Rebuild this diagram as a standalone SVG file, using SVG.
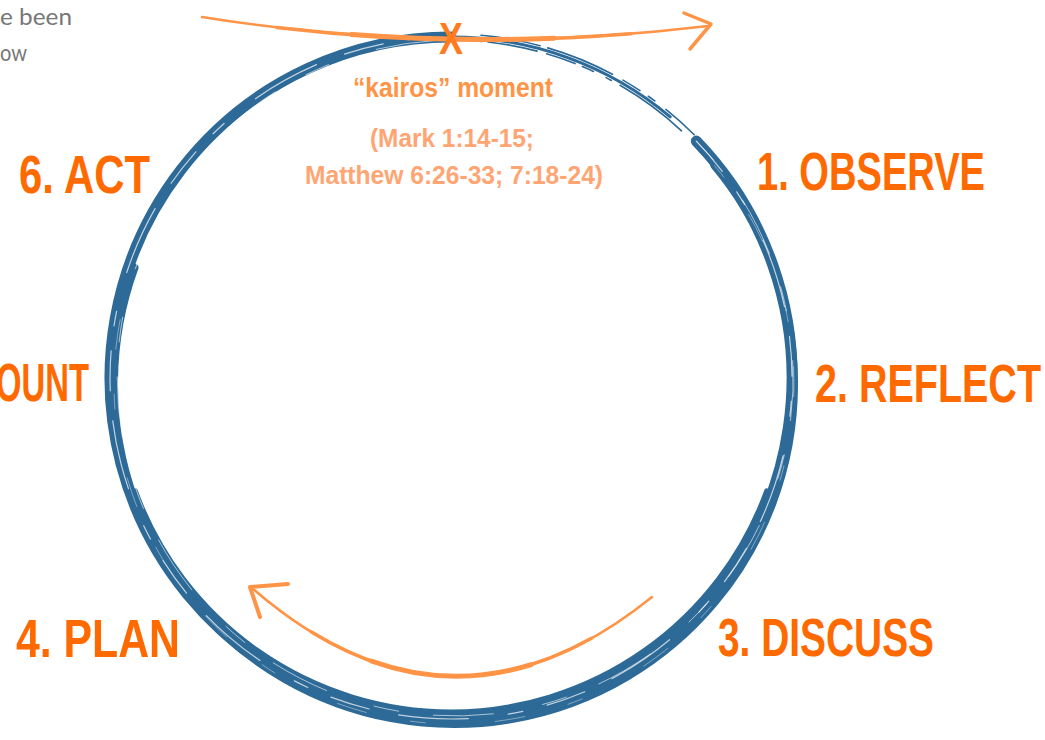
<svg xmlns="http://www.w3.org/2000/svg" width="1045" height="740" viewBox="0 0 1045 740">
<style>
.bg{fill:#ffffff}
.blue{fill:none;stroke:#2d6a97;stroke-linecap:round}
.streak{fill:none;stroke:#ffffff;stroke-linecap:round}
.or{fill:none;stroke:#ff9447;stroke-linecap:round;stroke-linejoin:round}
.label{font-family:"Liberation Sans",Arial,sans-serif;font-weight:700;font-size:40px;fill:#ff6a00}
.kairos{font-family:"Liberation Sans","Noto Sans",sans-serif;font-weight:700;font-size:28px;fill:#ff9447}
.ref{font-family:"Liberation Sans","Noto Sans",sans-serif;font-weight:700;font-size:26px;fill:#ffa574}
.gray{font-family:Lato,"Open Sans","Liberation Sans",sans-serif;font-weight:400;font-size:23px;fill:#777777}
</style>
<rect class="bg" x="0" y="0" width="1045" height="740"/>

<g id="intro-text">
<text class="gray" x="0" y="25" textLength="72" lengthAdjust="spacingAndGlyphs">e been</text>
<text class="gray" x="0" y="61" textLength="27" lengthAdjust="spacingAndGlyphs">ow</text>
</g>

<g id="cycle">
<path class="blue" d="M 696.3 141.1 A 341 341 0 1 1 451 37" stroke-width="11"/>
<path class="blue" d="M 714.4 165.4 A 340 340 0 1 1 134.5 267.7" stroke-width="8"/>
<path class="blue" d="M 766.7 490.9 A 336 336 0 0 1 135.3 490.9" stroke-width="5"/>
<path class="blue" d="M 451 37 A 341 341 0 0 1 670.2 116.8" stroke-width="3"/>
<path class="blue" d="M 392.3 45.1 A 338 338 0 0 1 681.5 130.8" stroke-width="1.6" stroke-dasharray="90 6 50 10 30 8 12 14 6 10"/>
<path class="blue" d="M 481 35.3 A 344 344 0 0 1 694.2 134.8" stroke-width="1.6" stroke-dasharray="60 8 70 12 20 10 8 14"/>
<path class="streak" d="M 696.3 141.1 A 341 341 0 1 1 451 37" stroke-width="1.2" stroke-dasharray="40 25 15 40 70 30" opacity="0.7"/>
<path class="streak" d="M 696.3 141.1 A 338 338 0 1 1 451 40" stroke-width="1" stroke-dasharray="25 50 60 35" opacity="0.6"/>
<path class="streak" d="M 714.4 165.4 A 340 340 0 1 1 134.5 267.7" stroke-width="0.8" stroke-dasharray="15 45 30 70" opacity="0.5"/>
</g>

<g id="connectors">
<path class="or" d="M 202 17 Q 450 57 708 26" stroke-width="2.5"/>
<path class="or" d="M 276.6 27.4 Q 451.3 48 630.8 33.7" stroke-width="3.5"/>
<path class="or" d="M 351.7 34.6 Q 452.1 42.1 554.1 38.2" stroke-width="5"/>
<path class="or" d="M 684 13 L 711 24 L 690 49" stroke-width="3.5"/>
<path class="or" d="M 652 597 Q 450 760 252 588" stroke-width="2.5"/>
<path class="or" d="M 591.5 638.3 Q 450.5 717.3 311.5 632" stroke-width="3.5"/>
<path class="or" d="M 531.2 664.6 Q 450.8 689.7 371.2 661" stroke-width="5"/>
<path class="or" d="M 288 584 L 250 587 L 260 617" stroke-width="4"/>
</g>

<g id="kairos-moment">
<text x="451" y="54" font-family="Liberation Sans,sans-serif" font-weight="700" font-size="44" fill="#ff7b1c" text-anchor="middle" textLength="24" lengthAdjust="spacingAndGlyphs">X</text>
<text class="kairos" x="453" y="97" text-anchor="middle" textLength="200" lengthAdjust="spacingAndGlyphs">“kairos” moment</text>
<text class="ref" x="452" y="147" text-anchor="middle" textLength="164" lengthAdjust="spacingAndGlyphs">(Mark 1:14-15;</text>
<text class="ref" x="454" y="184" text-anchor="middle" textLength="298" lengthAdjust="spacingAndGlyphs">Matthew 6:26-33; 7:18-24)</text>
</g>

<g id="node-observe"><text class="label" transform="translate(757 190) scale(1 1.35)" textLength="228" lengthAdjust="spacingAndGlyphs">1. OBSERVE</text></g>
<g id="node-reflect"><text class="label" transform="translate(815 402) scale(1 1.35)" textLength="226" lengthAdjust="spacingAndGlyphs">2. REFLECT</text></g>
<g id="node-discuss"><text class="label" transform="translate(718 656) scale(1 1.35)" textLength="216" lengthAdjust="spacingAndGlyphs">3. DISCUSS</text></g>
<g id="node-plan"><text class="label" transform="translate(16 657) scale(1 1.35)" textLength="164" lengthAdjust="spacingAndGlyphs">4. PLAN</text></g>
<g id="node-account"><text class="label" transform="translate(89 401) scale(1 1.35)" text-anchor="end" textLength="93" lengthAdjust="spacingAndGlyphs">OUNT</text></g>
<g id="node-act"><text class="label" transform="translate(19 193) scale(1 1.35)" textLength="131" lengthAdjust="spacingAndGlyphs">6. ACT</text></g>
</svg>
